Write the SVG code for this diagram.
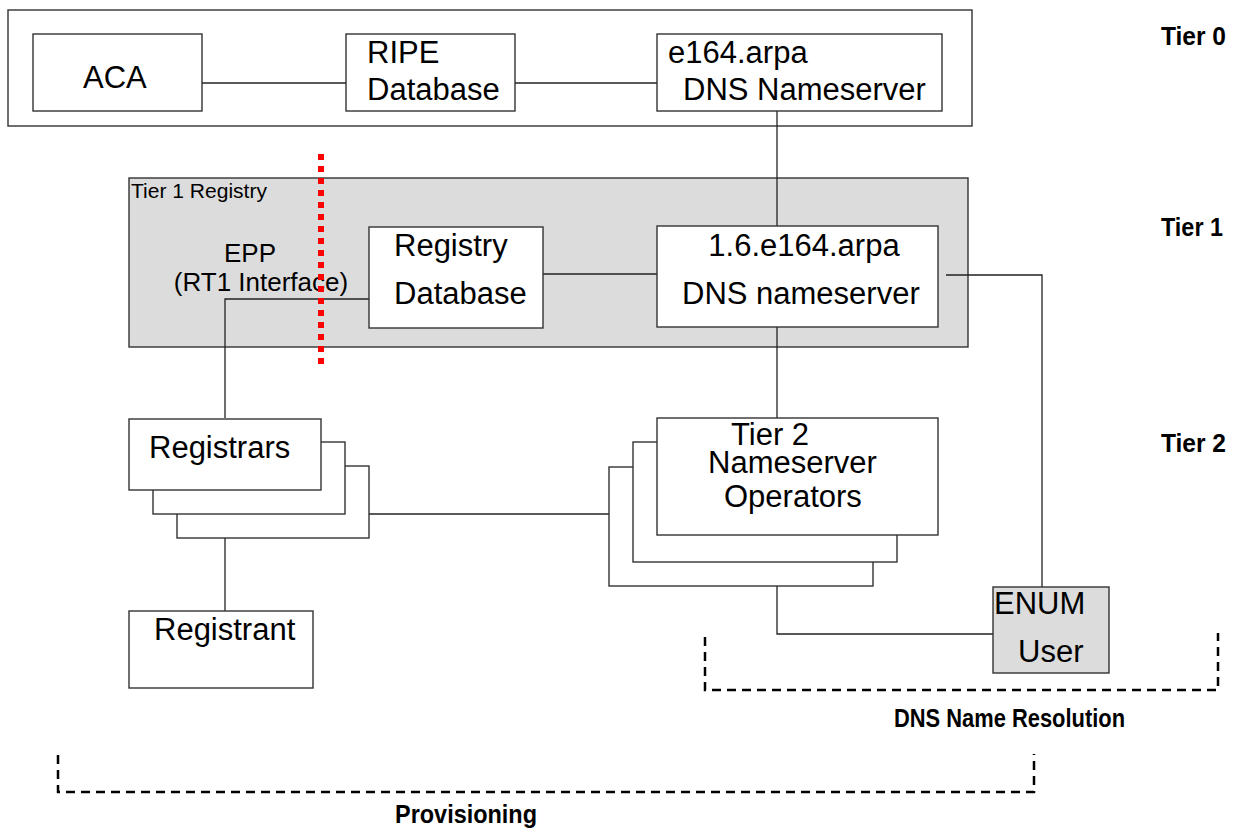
<svg xmlns="http://www.w3.org/2000/svg" width="1237" height="829" viewBox="0 0 1237 829">
<style>
.box{fill:#fff;stroke:#333;stroke-width:1.4}
.gray{fill:#dcdcdc;stroke:#333;stroke-width:1.4}
.t{font-family:"Liberation Sans",Arial,sans-serif;font-size:31px;fill:#000}
.epp{font-family:"Liberation Sans",Arial,sans-serif;font-size:26px;fill:#000}
.small{font-family:"Liberation Sans",Arial,sans-serif;font-size:20px;fill:#000}
.lbl{font-family:"Liberation Sans",Arial,sans-serif;font-size:25px;font-weight:bold;fill:#000}
.conn path{fill:none;stroke:#222;stroke-width:1.3}
.dash{fill:none;stroke:#000;stroke-width:2.5;stroke-dasharray:9 6}
</style>
<rect width="1237" height="829" fill="#fff"/>
<g id="tier0">
<rect class="box" x="8" y="10" width="964" height="116"/>
</g>
<g id="tier1-registry">
<rect class="gray" x="129" y="178" width="839" height="169"/>
<text class="small" x="131" y="198" textLength="136" lengthAdjust="spacingAndGlyphs">Tier 1 Registry</text>
</g>
<g id="epp">
<text class="epp" x="250" y="262" text-anchor="middle">EPP</text>
<text class="epp" x="261" y="291" text-anchor="middle">(RT1 Interface)</text>
</g>
<g class="conn" id="connectors">
<path d="M202 83H346"/>
<path d="M515 83H657"/>
<path d="M777 111V226"/>
<path d="M543 274H657"/>
<path d="M946 275H1042V587"/>
<path d="M777 327V418"/>
<path d="M369 299H225V418"/>
<path d="M369 514H609"/>
<path d="M225 538V611"/>
<path d="M777 586V634H993"/>
</g>
<g id="aca">
<rect class="box" x="33" y="34" width="169" height="77"/>
<text class="t" x="83" y="88">ACA</text>
</g>
<g id="ripe">
<rect class="box" x="346" y="34" width="169" height="77"/>
<text class="t" x="367" y="63">RIPE</text>
<text class="t" x="367" y="100">Database</text>
</g>
<g id="e164">
<rect class="box" x="657" y="34" width="285" height="77"/>
<text class="t" x="668" y="63">e164.arpa</text>
<text class="t" x="683" y="100">DNS Nameserver</text>
</g>
<g id="registry-db">
<rect class="box" x="369" y="227" width="174" height="101"/>
<text class="t" x="394" y="256">Registry</text>
<text class="t" x="394" y="304">Database</text>
</g>
<g id="ns16">
<rect class="box" x="657" y="226" width="281" height="101"/>
<text class="t" x="804" y="256" text-anchor="middle">1.6.e164.arpa</text>
<text class="t" x="682" y="304">DNS nameserver</text>
</g>
<g id="registrars">
<rect class="box" x="177" y="466" width="192" height="72"/>
<rect class="box" x="153" y="442" width="192" height="72"/>
<rect class="box" x="129" y="419" width="192" height="71"/>
<text class="t" x="149" y="458">Registrars</text>
</g>
<g id="registrant">
<rect class="box" x="129" y="611" width="184" height="77"/>
<text class="t" x="154" y="640">Registrant</text>
</g>
<g id="tier2-operators">
<rect class="box" x="609" y="467" width="264" height="119"/>
<rect class="box" x="633" y="442" width="264" height="120"/>
<rect class="box" x="657" y="418" width="281" height="117"/>
<text class="t" x="731" y="445">Tier 2</text>
<text class="t" x="708" y="473">Nameserver</text>
<text class="t" x="724" y="507">Operators</text>
</g>
<g id="enum-user">
<rect class="gray" x="993" y="587" width="116" height="86"/>
<text class="t" x="994" y="614">ENUM</text>
<text class="t" x="1018" y="662">User</text>
</g>
<g id="red-divider">
<path d="M321 154V366" fill="none" stroke="#ff0000" stroke-width="6" stroke-dasharray="6 6"/>
</g>
<g id="tier-labels">
<text class="lbl" x="1161" y="45" textLength="65" lengthAdjust="spacingAndGlyphs">Tier 0</text>
<text class="lbl" x="1161" y="236" textLength="62" lengthAdjust="spacingAndGlyphs">Tier 1</text>
<text class="lbl" x="1161" y="452" textLength="65" lengthAdjust="spacingAndGlyphs">Tier 2</text>
</g>
<g id="dns-resolution">
<path class="dash" d="M705 637V690H1218V633"/>
<text class="lbl" x="894" y="727" textLength="231" lengthAdjust="spacingAndGlyphs">DNS Name Resolution</text>
</g>
<g id="provisioning">
<path class="dash" d="M58 755V792H1034V754"/>
<text class="lbl" x="395" y="823" textLength="142" lengthAdjust="spacingAndGlyphs">Provisioning</text>
</g>
</svg>
